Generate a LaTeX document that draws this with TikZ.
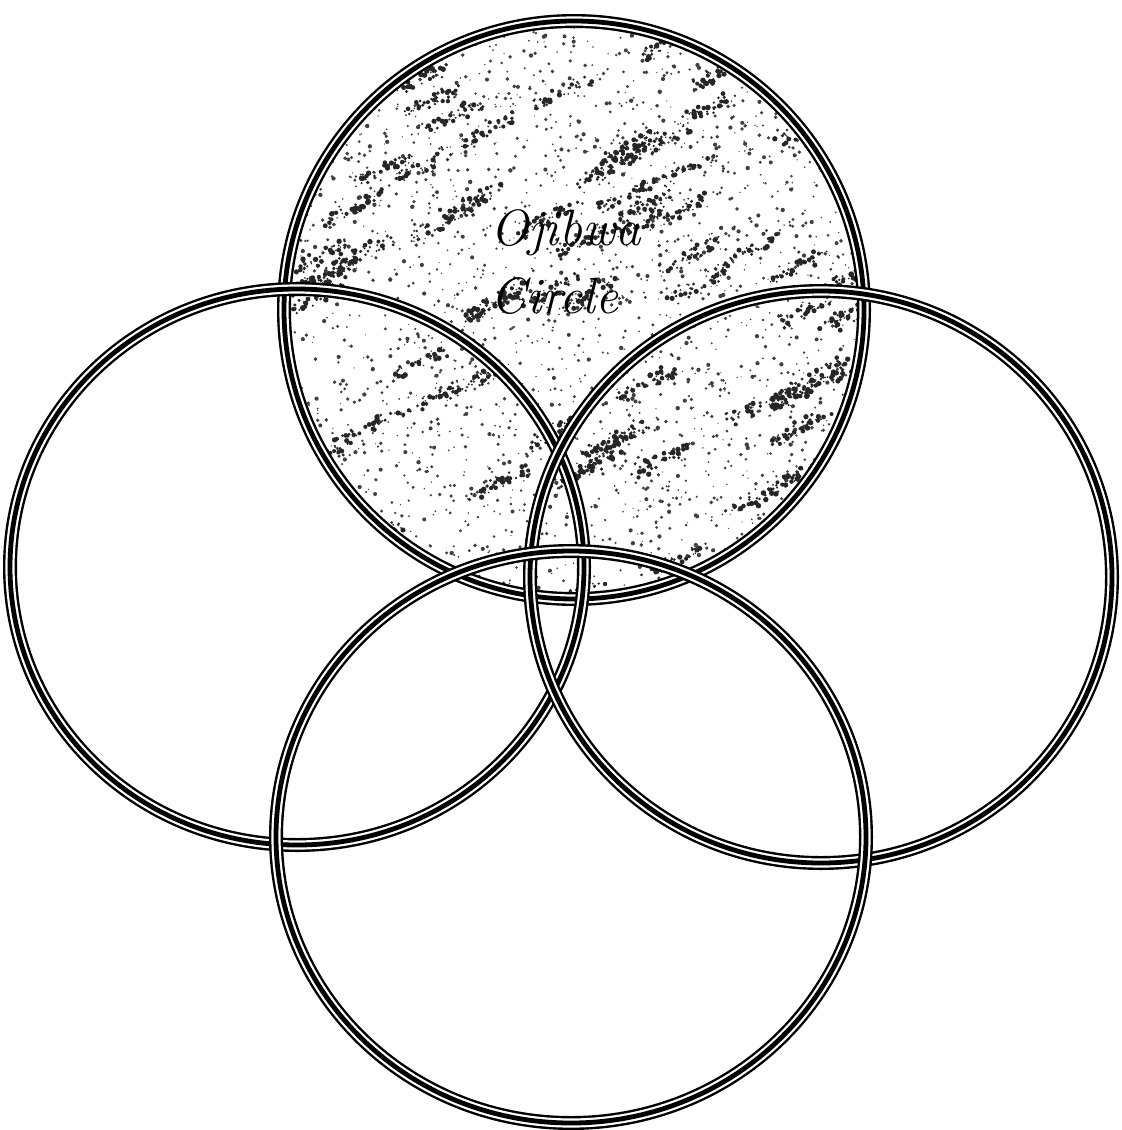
\documentclass[tikz,border=0pt]{standalone}
\begin{document}
\begin{tikzpicture}[x=0.5pt,y=-0.5pt,
  ring/.style={line width=7pt,draw=black},
  ringgap/.style={line width=4.6pt,draw=white},
  ringcore/.style={line width=2.4pt,draw=black},
  speck/.style={fill=black!75},
  label/.style={font=\itshape\fontsize{25.5}{30}\selectfont,inner sep=0pt}]
\useasboundingbox (0,0) rectangle (1121,1130);
\fill[white] (0,0) rectangle (1121,1130);
\coordinate (top) at (574,310);
\coordinate (left) at (297,567);
\coordinate (right) at (821,577);
\coordinate (bottom) at (571,837);
% texture of the top circle
\begin{scope}
\clip (top) ellipse [x radius=290, y radius=289];
\pgfmathsetseed{7}
\foreach \i in {1,...,2600}{
  \pgfmathsetmacro{\px}{574+300*rand}
  \pgfmathsetmacro{\py}{310+300*rand}
  \pgfmathsetmacro{\pr}{0.6+1.6*rnd}
  \fill[speck] (\px,\py) circle (\pr);
}
\foreach \i in {1,...,90}{
  \pgfmathsetmacro{\cx}{574+290*rand}
  \pgfmathsetmacro{\cy}{310+290*rand}
  \foreach \j in {1,...,35}{
    \pgfmathsetmacro{\t}{rand}
    \pgfmathsetmacro{\px}{\cx+28*\t+6*rand}
    \pgfmathsetmacro{\py}{\cy-14*\t+6*rand}
    \pgfmathsetmacro{\pr}{0.8+2.0*rnd}
    \fill[black!85] (\px,\py) circle (\pr);
  }
}
\end{scope}
\node[label,anchor=base west] (t1) at (490,245) {Ojibwa};
\node[label,anchor=base west] (t2) at (490,313) {Circle};
% rings
\foreach \c/\rx/\ry in {top/290/289,left/287/278,right/291/286,bottom/295/286}{
  \draw[ring] (\c) ellipse [x radius=\rx, y radius=\ry];
  \draw[ringgap] (\c) ellipse [x radius=\rx, y radius=\ry];
  \draw[ringcore] (\c) ellipse [x radius=\rx, y radius=\ry];
}
\end{tikzpicture}
\end{document}
